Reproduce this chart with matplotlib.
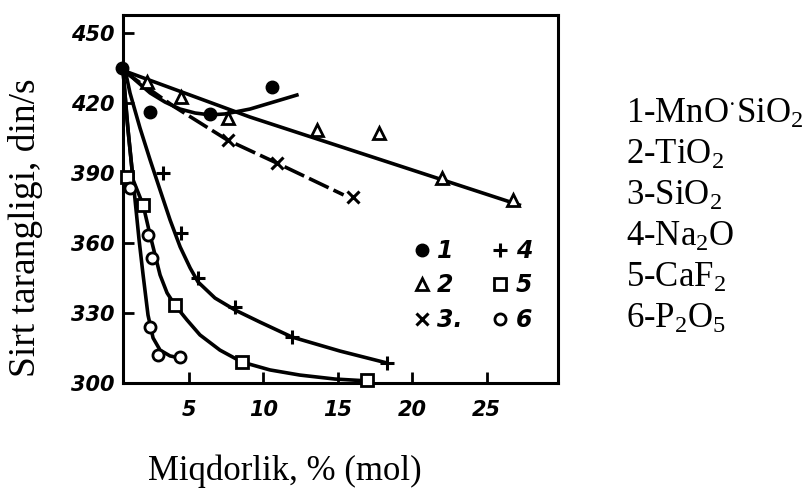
import numpy as np
import matplotlib
matplotlib.use("Agg")
import matplotlib.pyplot as plt

plt.rcParams['font.family'] = ['Liberation Serif', 'DejaVu Serif']
plt.rcParams['mathtext.fontset'] = 'custom'
plt.rcParams['mathtext.rm'] = 'Liberation Serif'
plt.rcParams['mathtext.it'] = 'Liberation Serif:italic'

# measured points, % (mol) vs surface tension
x1 = [0.52, 2.4, 6.4, 10.6]
y1 = [435.0, 416.1, 415.3, 426.9]
x2 = [2.2, 4.5, 7.6, 13.6, 17.8, 22.0, 26.8]
y2 = [429.0, 422.6, 413.6, 408.4, 407.1, 387.9, 378.4]
x3 = [7.6, 10.9, 16.0]
y3 = [404.1, 394.3, 379.7]
x4 = [3.3, 4.5, 5.6, 8.1, 11.9, 18.3]
y4 = [390.0, 364.3, 345.0, 332.6, 319.7, 308.6]
x5 = [0.85, 1.9, 4.1, 8.6, 17.0]
y5 = [388.3, 376.3, 333.4, 309.0, 301.3]
x6 = [1.05, 2.25, 2.5, 2.4, 2.95, 4.4]
y6 = [383.6, 363.4, 353.6, 324.0, 312.0, 311.1]

# hand-drawn trend curves
c1x = [0.52, 1.39, 2.4, 3.4, 4.41, 5.42, 6.42, 7.43, 9.11, 12.26]
c1y = [435.0, 429.9, 424.3, 420.4, 417.4, 415.7, 414.9, 415.3, 417.4, 423.4]
c2x = [0.52, 9.1, 27.2]
c2y = [434.1, 414.0, 376.3]
c3x = [0.52, 4.0, 7.6, 10.9, 15.4]
c3y = [434.1, 418.5, 404.1, 394.3, 380.6]
c4x = [0.72, 1.05, 1.72, 2.4, 3.07, 3.74, 4.42, 5.09, 5.62, 6.76, 8.1,
       9.78, 11.93, 15.15, 18.3]
c4y = [434.2, 424.3, 409.3, 395.6, 382.7, 369.9, 358.3, 349.3, 343.3, 336.4,
       331.3, 326.1, 319.7, 313.7, 308.6]
c5x = [0.58, 0.92, 1.26, 1.93, 2.4, 3.07, 3.54, 4.07, 4.88, 5.75, 7.09,
       8.56, 10.45, 12.46, 14.81, 17.0]
c5y = [434.2, 408.4, 387.0, 376.3, 363.4, 346.3, 338.6, 333.4, 327.0, 320.6,
       314.1, 309.0, 305.6, 303.4, 301.7, 300.9]
c6x = [0.58, 0.85, 1.12, 1.39, 1.66, 1.93, 2.26, 2.6, 3.07, 3.74, 4.41]
c6y = [434.2, 412.7, 395.6, 378.4, 361.3, 346.3, 329.1, 319.3, 314.1, 311.6,
       310.7]

yticks = [300, 330, 360, 390, 420, 450]
xticks = [5, 10, 15, 20, 25]
names = [r'1-MnO$^{\cdot}$SiO$_2$', r'2-TiO$_2$', r'3-SiO$_2$',
         r'4-Na$_2$O', r'5-CaF$_2$', r'6-P$_2$O$_5$']

fig = plt.figure(figsize=(8.07, 4.88), dpi=100)
ax = fig.add_axes([123 / 807, 1 - 383 / 488, 435 / 807, 368 / 488])

lw = 2.6
ax.plot(c1x, c1y, '-', color='k', lw=lw, clip_on=False)
ax.plot(c2x, c2y, '-', color='k', lw=lw, clip_on=False)
ax.plot(c3x, c3y, color='k', lw=lw, dashes=(6, 1.5), clip_on=False)
ax.plot(c4x, c4y, '-', color='k', lw=lw, clip_on=False)
ax.plot(c5x, c5y, '-', color='k', lw=lw, clip_on=False)
ax.plot(c6x, c6y, '-', color='k', lw=lw, clip_on=False)

kw = dict(ls='none', color='k', clip_on=False, zorder=3)
h1, = ax.plot(x1, y1, marker='o', ms=9, **kw)
h2, = ax.plot(x2, y2, marker='^', ms=9, mfc='white', mew=2, **kw)
h3, = ax.plot(x3, y3, marker='x', ms=8, mew=2.2, **kw)
h4, = ax.plot(x4, y4, marker='+', ms=10, mew=2.2, **kw)
h5, = ax.plot(x5, y5, marker='s', ms=8.5, mfc='white', mew=2, **kw)
h6, = ax.plot(x6, y6, marker='o', ms=8, mfc='white', mew=2, **kw)

ax.set_xlim(0.58, 29.8)
ax.set_ylim(300, 457.7)
ax.set_xticks(xticks)
ax.set_yticks(yticks)
ax.tick_params(direction='in', length=8, width=2, pad=6)
ax.tick_params(axis='x', pad=12)
for t in ax.get_xticklabels() + ax.get_yticklabels():
    t.set_fontfamily('DejaVu Sans')
    t.set_fontweight('bold')
    t.set_fontstyle('italic')
    t.set_fontsize(15)
for s in ax.spines.values():
    s.set_linewidth(2.2)

leg = ax.legend([h1, h2, h3, h4, h5, h6], ['1', '2', '3.', '4', '5', '6'],
                ncol=2, frameon=False, loc='upper left',
                bbox_to_anchor=(398 / 807, 1 - 227 / 488),
                bbox_transform=fig.transFigure, borderpad=0,
                handlelength=1.0, handletextpad=0.15, columnspacing=1.1,
                labelspacing=0.45,
                prop={'family': 'DejaVu Sans', 'weight': 'bold',
                      'style': 'italic', 'size': 17})

fig.text(26 / 807, 1 - 228 / 488, 'Sirt tarangligi, din/s', rotation=90,
         ha='center', va='center', fontsize=27)
fig.text(285 / 807, 1 - 471 / 488, 'Miqdorlik, % (mol)',
         ha='center', va='center', fontsize=25)

for i, s in enumerate(names):
    fig.text(626 / 807, 1 - (123 + 41 * i) / 488, s, ha='left',
             va='baseline', fontsize=25)

fig.savefig('out.png', dpi=100)
